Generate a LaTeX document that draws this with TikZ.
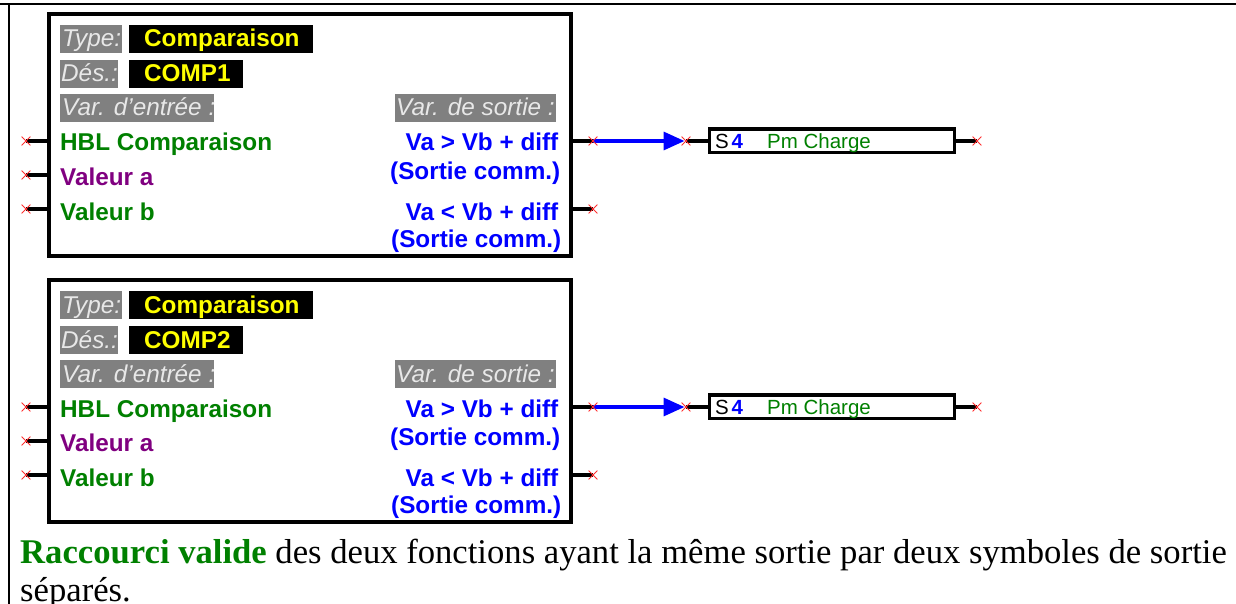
\documentclass[tikz,border=0pt]{standalone}
\usepackage{fontspec}
\setmainfont{Liberation Serif}
\newfontfamily\arialf{Liberation Sans}
\usetikzlibrary{shapes.misc,arrows.meta}
\pgfdeclarelayer{conn}
\pgfsetlayers{conn,main}
\definecolor{grn}{HTML}{008000}
\definecolor{prp}{HTML}{800080}
\definecolor{blu}{HTML}{0000FF}
\definecolor{yel}{HTML}{FFFF00}
\definecolor{gry}{HTML}{808080}
\definecolor{lgr}{HTML}{E8E8E8}
\definecolor{rd}{HTML}{FF3030}
\tikzset{
  x=1pt,y=-1pt,
  frameline/.style={draw=black,line width=2.6pt},
  fblock/.style={draw=black,line width=4pt,fill=white},
  sblock/.style={draw=black,line width=3.4pt,fill=white},
  pinline/.style={draw=black,line width=3.4pt},
  wire/.style={draw=blu,line width=3.4pt,-{Triangle[length=21pt,width=18pt]},shorten >=1.5pt},
  pinx/.style={cross out,draw=rd,line width=.8pt,inner sep=0pt,minimum size=8pt},
  tagtxt/.style={anchor=base west,inner sep=0pt,text=lgr,font=\arialf\itshape\fontsize{24.3}{26}\selectfont},
  valtxt/.style={anchor=base west,inner sep=0pt,text=yel,font=\arialf\bfseries\fontsize{24.3}{26}\selectfont},
  varl/.style={anchor=base west,inner sep=0pt,font=\arialf\bfseries\fontsize{24.3}{26}\selectfont},
  varr/.style={anchor=base east,inner sep=0pt,text=blu,font=\arialf\bfseries\fontsize{24.3}{26}\selectfont},
  symtxt/.style={anchor=base west,inner sep=0pt,font=\arialf\fontsize{20.5}{22}\selectfont},
  para/.style={anchor=base west,inner sep=0pt,font=\fontsize{34.64}{38}\selectfont},
}
\newcommand{\compblock}[3]{%
\begin{scope}[yshift=-#1pt]
  \node[pinx] (#2i1) at (26,141) {};
  \node[pinx] (#2i2) at (26,175) {};
  \node[pinx] (#2i3) at (26,209) {};
  \node[pinx] (#2o1) at (593,141) {};
  \node[pinx] (#2o2) at (593,209) {};
  \node[pinx] (#2s) at (686,141) {};
  \node[pinx] (#2e) at (977,141) {};
  \coordinate (#2bi1) at (48,141);
  \coordinate (#2bi2) at (48,175);
  \coordinate (#2bi3) at (48,209);
  \coordinate (#2bo1) at (571,141);
  \coordinate (#2bo2) at (571,209);
  \coordinate (#2bsi) at (709,141);
  \coordinate (#2bso) at (955,141);
  \begin{pgfonlayer}{conn}
    \path[pinline] (#2i1.center) -- (#2bi1);
    \path[pinline] (#2i2.center) -- (#2bi2);
    \path[pinline] (#2i3.center) -- (#2bi3);
    \path[pinline] (#2bo1) -- (#2o1.center);
    \path[pinline] (#2bo2) -- (#2o2.center);
    \path[pinline] (#2s.center) -- (#2bsi);
    \path[pinline] (#2bso) -- (#2e.center);
    \path[wire] (#2o1.center) -- (#2s.center);
  \end{pgfonlayer}
  \path[fblock] (49,14) rectangle (570.7,255.5);
  \fill[gry] (60,25) rectangle (122,53);
  \fill[black] (129,25) rectangle (313,53);
  \fill[gry] (60,60) rectangle (118,88);
  \fill[black] (129,60) rectangle (243,88);
  \fill[gry] (60,94) rectangle (214,122);
  \fill[gry] (395,94) rectangle (556,122);
  \node[tagtxt] (#2t1) at (62,47) {Type:};
  \node[valtxt] (#2t2) at (144,47) {Comparaison};
  \node[tagtxt] (#2t3) at (61,82) {Dés.:};
  \node[valtxt] (#2t4) at (144,82) {#3};
  \node[tagtxt] (#2t5) at (62,116) {Var. d’entrée :};
  \node[tagtxt] (#2t6) at (396,116) {Var. de sortie :};
  \node[varl,text=grn] (#2l1) at (60,151) {HBL Comparaison};
  \node[varl,text=prp] (#2l2) at (60,185.5) {Valeur a};
  \node[varl,text=grn] (#2l3) at (60,220) {Valeur b};
  \node[varr] (#2r1) at (558.5,151) {Va > Vb + diff};
  \node[varr] (#2r2) at (560.5,179) {(Sortie comm.)};
  \node[varr] (#2r3) at (558.5,220) {Va < Vb + diff};
  \node[varr] (#2r4) at (561.5,247) {(Sortie comm.)};
  \path[sblock] (709.5,129) rectangle (954.5,152.3);
  \node[symtxt,text=black] (#2ss) at (715,148.5) {S};
  \node[symtxt,text=blu,font=\arialf\bfseries\fontsize{20.5}{22}\selectfont] (#2sn) at (731.5,148.5) {4};
  \node[symtxt,text=grn] (#2sl) at (767,148.5) {Pm Charge};
\end{scope}}
\begin{document}
\begin{tikzpicture}
\useasboundingbox (0,0) rectangle (1236,604);
\begin{pgfonlayer}{conn}
\fill[white] (0,0) rectangle (1236,604);
\path[frameline] (0,4) -- (1236,4);
\path[frameline] (9,4) -- (9,604);
\end{pgfonlayer}
\compblock{0}{a}{COMP1}
\compblock{266}{b}{COMP2}
\node[para] (p1) at (20,563.5) {\textcolor{grn}{\textbf{Raccourci valide}} des deux fonctions ayant la même sortie par deux symboles de sortie};
\node[para] (p2) at (20,601.5) {séparés.};
\end{tikzpicture}
\end{document}
